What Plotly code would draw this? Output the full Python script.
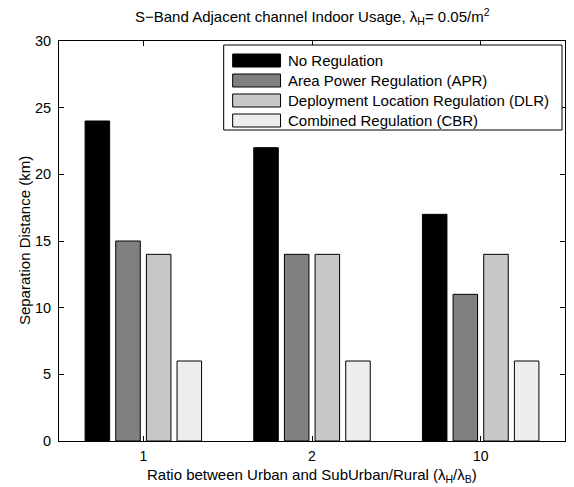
import plotly.graph_objects as go

# ---- data ----
categories = ["1", "2", "10"]
series_names = [
    "No Regulation",
    "Area Power Regulation (APR)",
    "Deployment Location Regulation (DLR)",
    "Combined Regulation (CBR)",
]
no_regulation = [24, 22, 17]
apr_values = [15, 14, 11]
dlr_values = [14, 14, 14]
cbr_values = [6, 6, 6]
series_values = [no_regulation, apr_values, dlr_values, cbr_values]
series_colors = ["#000000", "#808080", "#c8c8c8", "#eeeeee"]
y_ticks = [0, 5, 10, 15, 20, 25, 30]

W, H = 574, 487
L, R, T, B = 59, 8, 41, 46
pw, ph = W - L - R, H - T - B

def px_x(x):
    return (x - L) / pw

def px_y(y):
    return (H - B - y) / ph

FONT = "Liberation Sans, Arial, Helvetica, sans-serif"
FS = 15

fig = go.Figure()
for name, vals, col in zip(series_names, series_values, series_colors):
    fig.add_trace(go.Bar(
        x=categories, y=vals, name=name,
        marker=dict(color=col, line=dict(color="black", width=1)),
        showlegend=False,
    ))

# MATLAB-style legend
shapes = [dict(type="rect", xref="paper", yref="paper",
               x0=px_x(224), x1=px_x(563), y0=px_y(130), y1=px_y(45),
               line=dict(color="black", width=1), fillcolor="white", layer="above")]
annotations = []
row_centers = [60.5, 80.5, 100.5, 120.5]
for name, col, yc in zip(series_names, series_colors, row_centers):
    shapes.append(dict(type="rect", xref="paper", yref="paper",
                       x0=px_x(233), x1=px_x(281), y0=px_y(yc + 6.5), y1=px_y(yc - 6.5),
                       line=dict(color="black", width=1), fillcolor=col, layer="above"))
    annotations.append(dict(text=name, xref="paper", yref="paper",
                            x=px_x(286), y=px_y(yc), xanchor="left", yanchor="middle",
                            showarrow=False, font=dict(size=FS, color="black", family=FONT)))

annotations.append(dict(text="S\u2212Band Adjacent channel Indoor Usage, \u03bb<sub>H</sub>= 0.05/m<sup>2</sup>",
                        xref="paper", yref="paper", x=0.5, y=px_y(16),
                        xanchor="center", yanchor="middle", showarrow=False,
                        font=dict(size=FS, color="black", family=FONT)))
annotations.append(dict(text="Ratio between Urban and SubUrban/Rural (\u03bb<sub>H</sub>/\u03bb<sub>B</sub>)",
                        xref="paper", yref="paper", x=0.5, y=px_y(476),
                        xanchor="center", yanchor="middle", showarrow=False,
                        font=dict(size=FS, color="black", family=FONT)))
annotations.append(dict(text="Separation Distance (km)",
                        xref="paper", yref="paper", x=px_x(24), y=0.5,
                        xanchor="center", yanchor="middle", showarrow=False, textangle=-90,
                        font=dict(size=FS, color="black", family=FONT)))

fig.update_layout(
    width=W, height=H, autosize=False,
    margin=dict(l=L, r=R, t=T, b=B, pad=0),
    paper_bgcolor="white", plot_bgcolor="white",
    barmode="group", bargap=0.273, bargroupgap=0.2,
    font=dict(family=FONT, size=FS, color="black"),
    shapes=shapes, annotations=annotations,
    showlegend=False,
)
fig.update_xaxes(type="category", categoryorder="array", categoryarray=categories,
                 range=[-0.5, 2.5], showline=True, linecolor="black", linewidth=1,
                 mirror="ticks", ticks="inside", ticklen=5, tickcolor="black",
                 showgrid=False, zeroline=False, ticklabelstandoff=2,
                 tickfont=dict(size=14, family=FONT, color="black"))
fig.update_yaxes(range=[0, 30], tickvals=y_ticks, showline=True, linecolor="black",
                 linewidth=1, mirror="ticks", ticks="inside", ticklen=5, tickcolor="black",
                 showgrid=False, zeroline=False, ticklabelstandoff=4,
                 tickfont=dict(size=14.5, family=FONT, color="black"))

post = ("document.body.style.margin='0';document.body.style.padding='0';"
        "document.body.style.overflow='hidden';"
        "var gd=document.getElementById('{plot_id}');"
        "Plotly.relayout(gd,{width:574,height:487});")

fig.write_html("out.html", config={"responsive": False, "displayModeBar": False},
               default_width="574px", default_height="487px", post_script=post)
